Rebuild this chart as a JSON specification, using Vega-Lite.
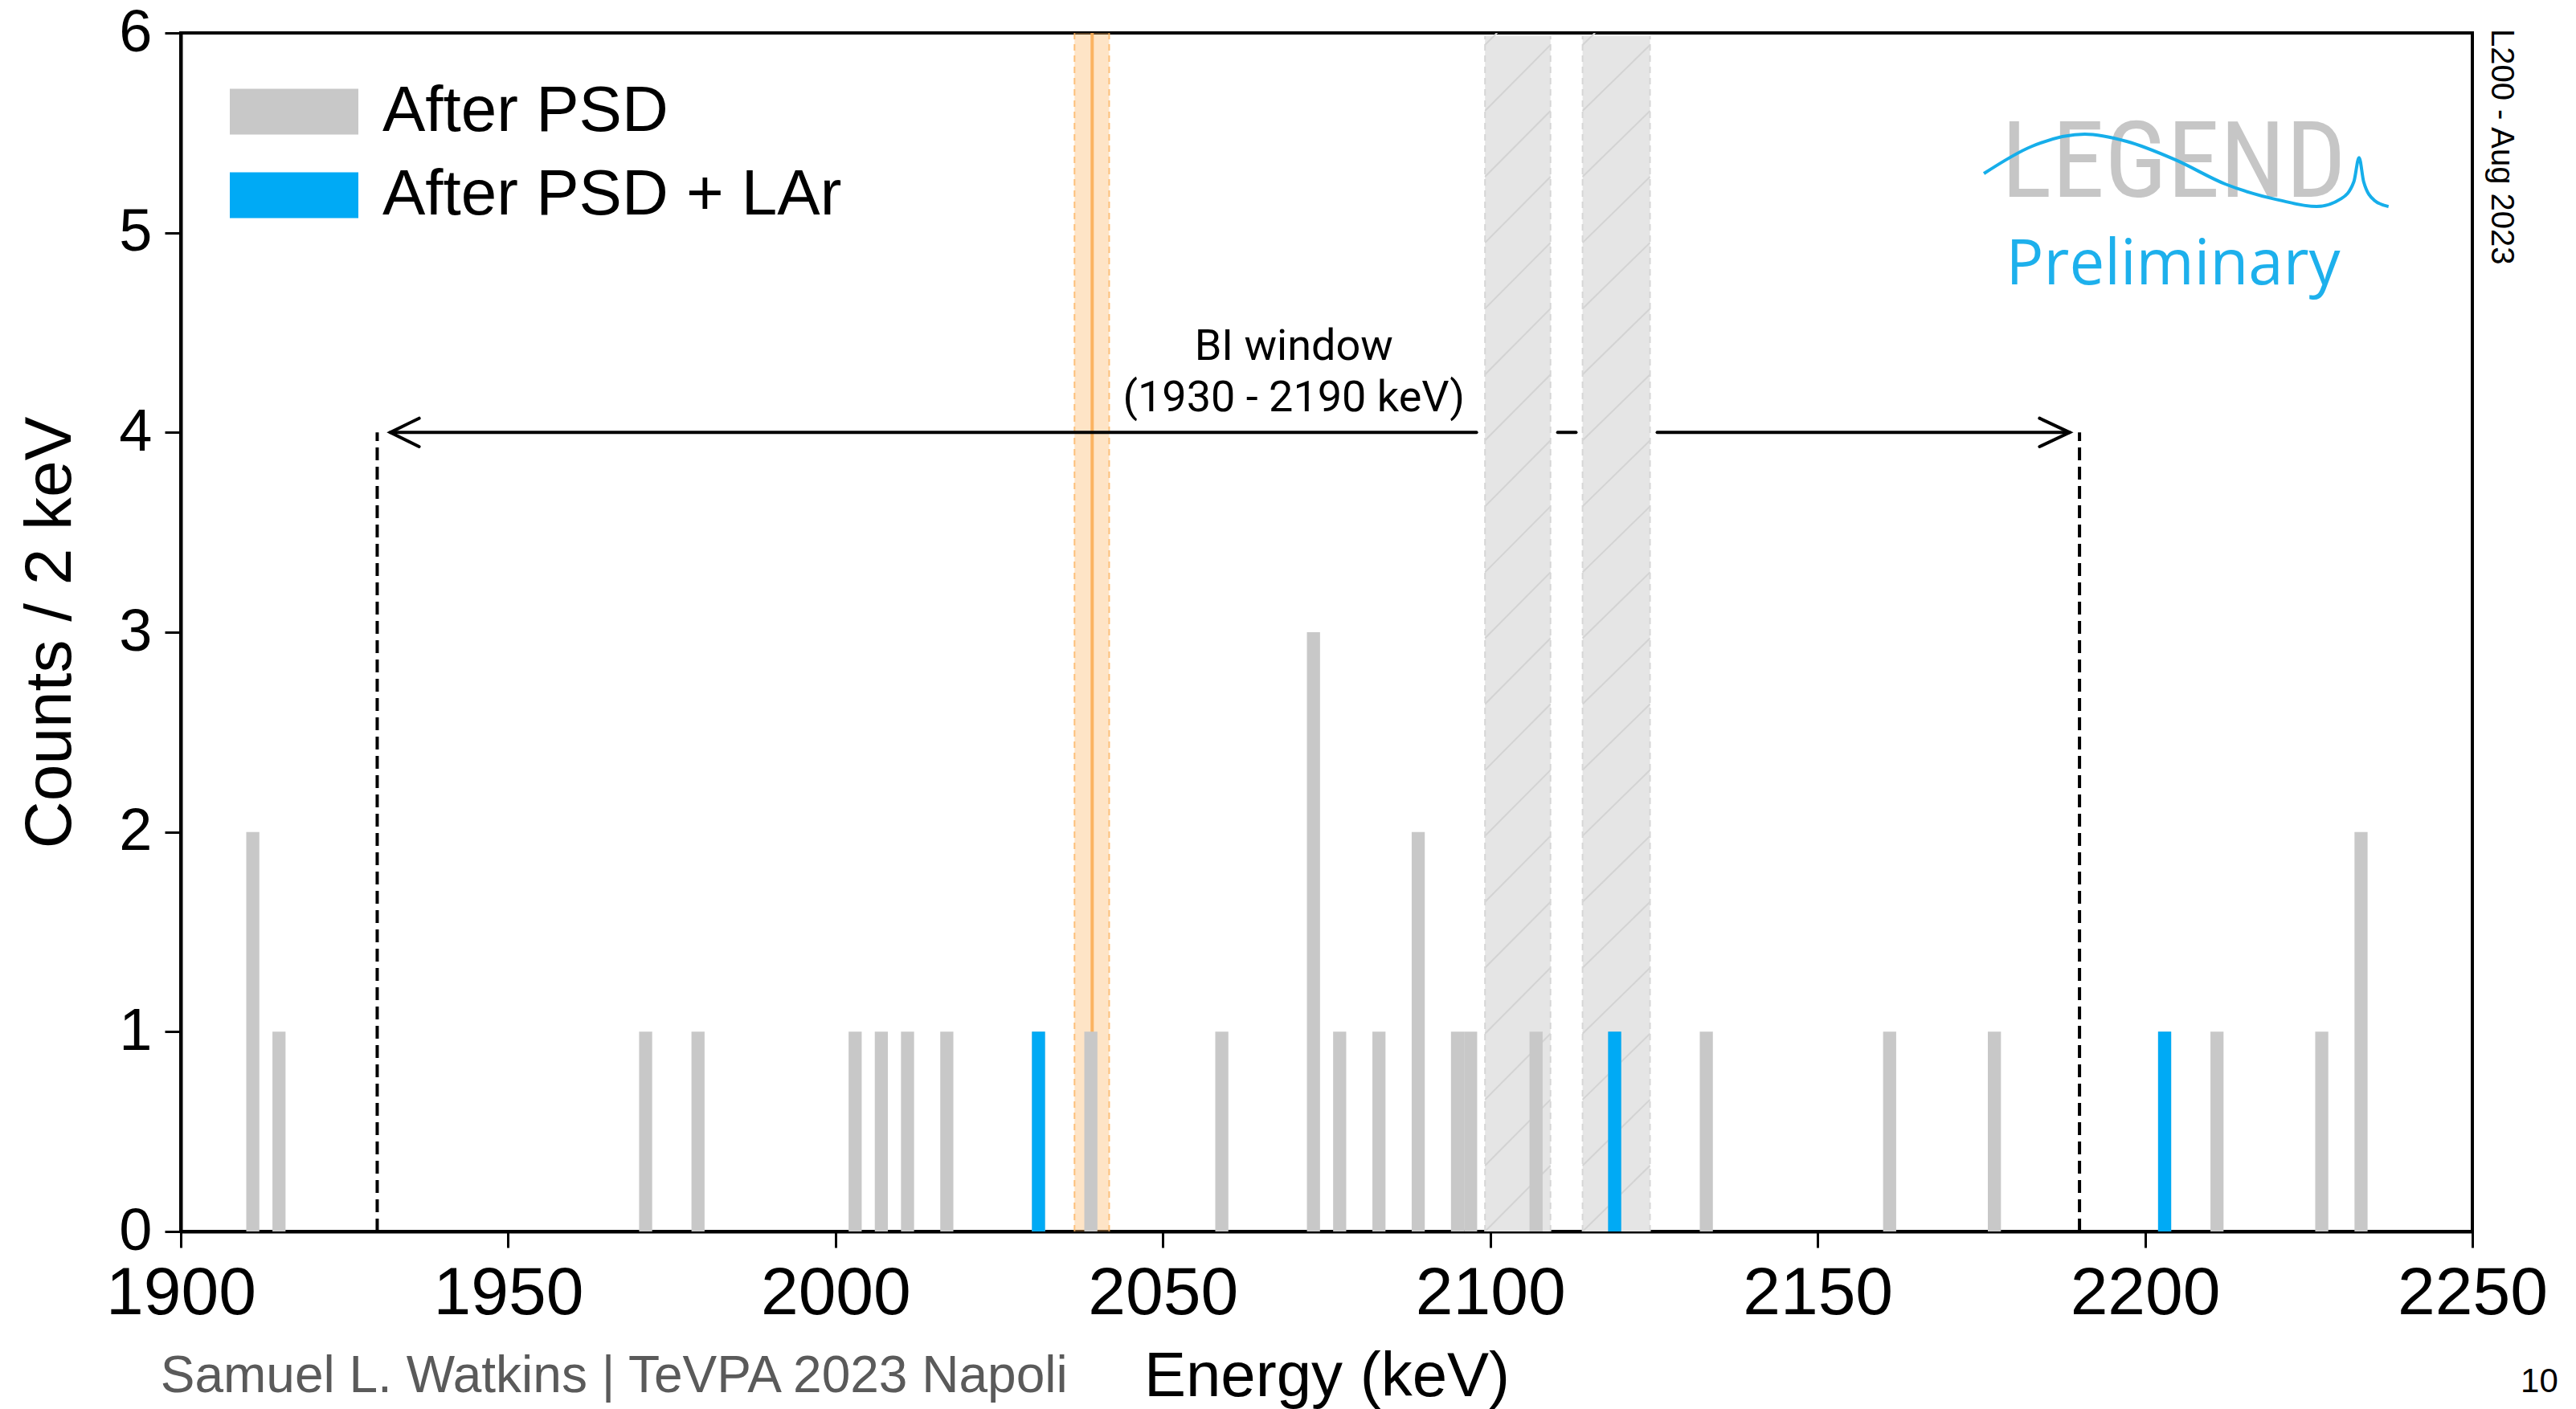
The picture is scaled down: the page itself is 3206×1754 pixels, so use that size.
{
  "$schema": "https://vega.github.io/schema/vega-lite/v6.json",
  "width": 2852,
  "height": 1492,
  "autosize": {"type": "none"},
  "padding": {"left": 225, "top": 41, "right": 129, "bottom": 221},
  "background": "white",
  "config": {
    "view": {"stroke": "black", "strokeWidth": 4},
    "font": "Liberation Sans",
    "axis": {
      "grid": false, "domainColor": "black", "domainWidth": 4, "tickColor": "black",
      "tickWidth": 3, "tickSize": 20, "labelColor": "black", "titleColor": "black",
      "titleFontWeight": "normal", "labelFont": "Liberation Sans", "titleFont": "Liberation Sans",
      "zindex": 1, "labelLimit": 0, "labelOverlap": false
    },
    "axisX": {"labelFontSize": 84, "labelPadding": 16, "titleFontSize": 78, "titlePadding": 23, "labelFlush": false},
    "axisY": {"labelFontSize": 74, "labelPadding": 16, "titleFontSize": 82, "titlePadding": 43},
    "legend": {
      "orient": "none", "legendX": 101, "legendY": 58, "padding": 0,
      "symbolType": "M-2,-0.7125L2,-0.7125L2,0.7125L-2,0.7125Z", "symbolSize": 6400,
      "symbolStrokeWidth": 0, "symbolOpacity": 1,
      "labelFontSize": 80, "labelFont": "Liberation Sans", "labelColor": "black",
      "labelOffset": 70, "labelLimit": 0, "rowPadding": 24
    }
  },
  "datasets": {
    "qbb": [{"lo": 2036.5, "hi": 2041.8, "c": 2039.2}],
    "qbbEdges": [{"e": 2036.5}, {"e": 2041.8}],
    "bands": [{"lo": 2099.2, "hi": 2109.2}, {"lo": 2114.1, "hi": 2124.4}],
    "bandEdges": [{"e": 2099.2}, {"e": 2109.2}, {"e": 2114.1}, {"e": 2124.4}],
    "hatch": [
      {"x0": 2099.2, "x1": 2109.2, "y0": -0.33, "y1": 0.0},
      {"x0": 2099.2, "x1": 2109.2, "y0": 0.0, "y1": 0.33},
      {"x0": 2099.2, "x1": 2109.2, "y0": 0.33, "y1": 0.66},
      {"x0": 2099.2, "x1": 2109.2, "y0": 0.66, "y1": 0.99},
      {"x0": 2099.2, "x1": 2109.2, "y0": 0.99, "y1": 1.32},
      {"x0": 2099.2, "x1": 2109.2, "y0": 1.32, "y1": 1.65},
      {"x0": 2099.2, "x1": 2109.2, "y0": 1.65, "y1": 1.98},
      {"x0": 2099.2, "x1": 2109.2, "y0": 1.98, "y1": 2.31},
      {"x0": 2099.2, "x1": 2109.2, "y0": 2.31, "y1": 2.64},
      {"x0": 2099.2, "x1": 2109.2, "y0": 2.64, "y1": 2.97},
      {"x0": 2099.2, "x1": 2109.2, "y0": 2.97, "y1": 3.30},
      {"x0": 2099.2, "x1": 2109.2, "y0": 3.30, "y1": 3.63},
      {"x0": 2099.2, "x1": 2109.2, "y0": 3.63, "y1": 3.96},
      {"x0": 2099.2, "x1": 2109.2, "y0": 3.96, "y1": 4.29},
      {"x0": 2099.2, "x1": 2109.2, "y0": 4.29, "y1": 4.62},
      {"x0": 2099.2, "x1": 2109.2, "y0": 4.62, "y1": 4.95},
      {"x0": 2099.2, "x1": 2109.2, "y0": 4.95, "y1": 5.28},
      {"x0": 2099.2, "x1": 2109.2, "y0": 5.28, "y1": 5.61},
      {"x0": 2099.2, "x1": 2109.2, "y0": 5.61, "y1": 5.94},
      {"x0": 2099.2, "x1": 2109.2, "y0": 5.94, "y1": 6.27},
      {"x0": 2114.1, "x1": 2124.4, "y0": -0.33, "y1": 0.0},
      {"x0": 2114.1, "x1": 2124.4, "y0": 0.0, "y1": 0.33},
      {"x0": 2114.1, "x1": 2124.4, "y0": 0.33, "y1": 0.66},
      {"x0": 2114.1, "x1": 2124.4, "y0": 0.66, "y1": 0.99},
      {"x0": 2114.1, "x1": 2124.4, "y0": 0.99, "y1": 1.32},
      {"x0": 2114.1, "x1": 2124.4, "y0": 1.32, "y1": 1.65},
      {"x0": 2114.1, "x1": 2124.4, "y0": 1.65, "y1": 1.98},
      {"x0": 2114.1, "x1": 2124.4, "y0": 1.98, "y1": 2.31},
      {"x0": 2114.1, "x1": 2124.4, "y0": 2.31, "y1": 2.64},
      {"x0": 2114.1, "x1": 2124.4, "y0": 2.64, "y1": 2.97},
      {"x0": 2114.1, "x1": 2124.4, "y0": 2.97, "y1": 3.30},
      {"x0": 2114.1, "x1": 2124.4, "y0": 3.30, "y1": 3.63},
      {"x0": 2114.1, "x1": 2124.4, "y0": 3.63, "y1": 3.96},
      {"x0": 2114.1, "x1": 2124.4, "y0": 3.96, "y1": 4.29},
      {"x0": 2114.1, "x1": 2124.4, "y0": 4.29, "y1": 4.62},
      {"x0": 2114.1, "x1": 2124.4, "y0": 4.62, "y1": 4.95},
      {"x0": 2114.1, "x1": 2124.4, "y0": 4.95, "y1": 5.28},
      {"x0": 2114.1, "x1": 2124.4, "y0": 5.28, "y1": 5.61},
      {"x0": 2114.1, "x1": 2124.4, "y0": 5.61, "y1": 5.94},
      {"x0": 2114.1, "x1": 2124.4, "y0": 5.94, "y1": 6.27}
    ],
    "bars": [
      {"lo": 1910, "hi": 1912, "counts": 2, "series": "After PSD"},
      {"lo": 1914, "hi": 1916, "counts": 1, "series": "After PSD"},
      {"lo": 1970, "hi": 1972, "counts": 1, "series": "After PSD"},
      {"lo": 1978, "hi": 1980, "counts": 1, "series": "After PSD"},
      {"lo": 2002, "hi": 2004, "counts": 1, "series": "After PSD"},
      {"lo": 2006, "hi": 2008, "counts": 1, "series": "After PSD"},
      {"lo": 2010, "hi": 2012, "counts": 1, "series": "After PSD"},
      {"lo": 2016, "hi": 2018, "counts": 1, "series": "After PSD"},
      {"lo": 2030, "hi": 2032, "counts": 1, "series": "After PSD"},
      {"lo": 2038, "hi": 2040, "counts": 1, "series": "After PSD"},
      {"lo": 2058, "hi": 2060, "counts": 1, "series": "After PSD"},
      {"lo": 2072, "hi": 2074, "counts": 3, "series": "After PSD"},
      {"lo": 2076, "hi": 2078, "counts": 1, "series": "After PSD"},
      {"lo": 2082, "hi": 2084, "counts": 1, "series": "After PSD"},
      {"lo": 2088, "hi": 2090, "counts": 2, "series": "After PSD"},
      {"lo": 2094, "hi": 2096, "counts": 1, "series": "After PSD"},
      {"lo": 2096, "hi": 2098, "counts": 1, "series": "After PSD"},
      {"lo": 2106, "hi": 2108, "counts": 1, "series": "After PSD"},
      {"lo": 2118, "hi": 2120, "counts": 1, "series": "After PSD"},
      {"lo": 2132, "hi": 2134, "counts": 1, "series": "After PSD"},
      {"lo": 2160, "hi": 2162, "counts": 1, "series": "After PSD"},
      {"lo": 2176, "hi": 2178, "counts": 1, "series": "After PSD"},
      {"lo": 2202, "hi": 2204, "counts": 1, "series": "After PSD"},
      {"lo": 2210, "hi": 2212, "counts": 1, "series": "After PSD"},
      {"lo": 2226, "hi": 2228, "counts": 1, "series": "After PSD"},
      {"lo": 2232, "hi": 2234, "counts": 2, "series": "After PSD"},
      {"lo": 2030, "hi": 2032, "counts": 1, "series": "After PSD + LAr"},
      {"lo": 2118, "hi": 2120, "counts": 1, "series": "After PSD + LAr"},
      {"lo": 2202, "hi": 2204, "counts": 1, "series": "After PSD + LAr"}
    ],
    "biEdges": [{"e": 1930}, {"e": 2190}],
    "arrow": [
      {"seg": "shaftL", "o": 0, "x": 1932.0, "y": 4},
      {"seg": "shaftL", "o": 1, "x": 2097.9, "y": 4},
      {"seg": "shaftM", "o": 0, "x": 2110.3, "y": 4},
      {"seg": "shaftM", "o": 1, "x": 2113.1, "y": 4},
      {"seg": "shaftR", "o": 0, "x": 2125.5, "y": 4},
      {"seg": "shaftR", "o": 1, "x": 2188.5, "y": 4},
      {"seg": "headL", "o": 0, "x": 1936.4, "y": 4.071},
      {"seg": "headL", "o": 1, "x": 1932.0, "y": 4},
      {"seg": "headL", "o": 2, "x": 1936.4, "y": 3.929},
      {"seg": "headR", "o": 0, "x": 2183.9, "y": 4.071},
      {"seg": "headR", "o": 1, "x": 2188.5, "y": 4},
      {"seg": "headR", "o": 2, "x": 2183.9, "y": 3.929}
    ],
    "biText": [
      {"x": 2070, "y": 4.426, "t": "BI window"},
      {"x": 2070, "y": 4.17, "t": "(1930 - 2190 keV)"}
    ],
    "wave": [
      {"o": 0, "x": 2175.4, "y": 5.296},
      {"o": 1, "x": 2182.7, "y": 5.432},
      {"o": 2, "x": 2190.8, "y": 5.493},
      {"o": 3, "x": 2197.2, "y": 5.457},
      {"o": 4, "x": 2204.7, "y": 5.364},
      {"o": 5, "x": 2212.3, "y": 5.243},
      {"o": 6, "x": 2220.5, "y": 5.163},
      {"o": 7, "x": 2226.2, "y": 5.131},
      {"o": 8, "x": 2230.0, "y": 5.171},
      {"o": 9, "x": 2231.9, "y": 5.255},
      {"o": 10, "x": 2232.7, "y": 5.376},
      {"o": 11, "x": 2233.4, "y": 5.255},
      {"o": 12, "x": 2235.0, "y": 5.163},
      {"o": 13, "x": 2237.2, "y": 5.131}
    ],
    "logo": [{"x": 2204.4, "y": 5.18, "t": "LEGEND"}],
    "prelim": [{"x": 2204.3, "y": 4.74, "t": "Preliminary"}],
    "stamp": [{"x": 2254.4, "y": 5.43, "t": "L200 - Aug 2023"}],
    "footer": [{"x": 1896.9, "y": -0.805, "t": "Samuel L. Watkins | TeVPA 2023 Napoli"}],
    "page": [{"x": 2263.1, "y": -0.805, "t": "10"}]
  },
  "layer": [
    {
      "data": {"name": "qbb"},
      "mark": {"type": "rect", "fill": "#fdb462", "fillOpacity": 0.36},
      "encoding": {
        "x": {"field": "lo", "type": "quantitative", "title": "Energy (keV)",
              "scale": {"domain": [1900, 2250], "nice": false, "zero": false},
              "axis": {"values": [1900, 1950, 2000, 2050, 2100, 2150, 2200, 2250], "format": "d"}},
        "x2": {"field": "hi"},
        "y": {"datum": 0, "type": "quantitative", "title": "Counts / 2 keV",
              "scale": {"domain": [0, 6], "nice": false},
              "axis": {"values": [0, 1, 2, 3, 4, 5, 6], "format": "d"}},
        "y2": {"datum": 6}
      }
    },
    {
      "data": {"name": "qbbEdges"},
      "mark": {"type": "rule", "stroke": "#fdb462", "strokeWidth": 2, "strokeDash": [8, 6], "opacity": 0.8},
      "encoding": {
        "x": {"field": "e", "type": "quantitative", "title": "Energy (keV)"},
        "y": {"datum": 0, "type": "quantitative"},
        "y2": {"datum": 6}
      }
    },
    {
      "data": {"name": "qbb"},
      "mark": {"type": "rule", "stroke": "#fbad55", "strokeWidth": 4, "opacity": 0.9},
      "encoding": {
        "x": {"field": "c", "type": "quantitative", "title": "Energy (keV)"},
        "y": {"datum": 0, "type": "quantitative"},
        "y2": {"datum": 6}
      }
    },
    {
      "data": {"name": "bands"},
      "mark": {"type": "rect", "fill": "#e5e5e5"},
      "encoding": {
        "x": {"field": "lo", "type": "quantitative", "title": "Energy (keV)"},
        "x2": {"field": "hi"},
        "y": {"datum": 0, "type": "quantitative"},
        "y2": {"datum": 5.985}
      }
    },
    {
      "data": {"name": "hatch"},
      "mark": {"type": "rule", "stroke": "#d3d3d3", "strokeWidth": 2, "clip": true},
      "encoding": {
        "x": {"field": "x0", "type": "quantitative", "title": "Energy (keV)"},
        "x2": {"field": "x1"},
        "y": {"field": "y0", "type": "quantitative", "title": "Counts / 2 keV"},
        "y2": {"field": "y1"}
      }
    },
    {
      "data": {"name": "bandEdges"},
      "mark": {"type": "rule", "stroke": "#d6d6d6", "strokeWidth": 2, "strokeDash": [8, 6]},
      "encoding": {
        "x": {"field": "e", "type": "quantitative", "title": "Energy (keV)"},
        "y": {"datum": 0, "type": "quantitative"},
        "y2": {"datum": 5.985}
      }
    },
    {
      "data": {"name": "bars"},
      "mark": {"type": "rect"},
      "encoding": {
        "x": {"field": "lo", "type": "quantitative", "title": "Energy (keV)"},
        "x2": {"field": "hi"},
        "y": {"field": "counts", "type": "quantitative", "title": "Counts / 2 keV"},
        "y2": {"datum": 0},
        "color": {"field": "series", "type": "nominal",
                  "scale": {"domain": ["After PSD", "After PSD + LAr"], "range": ["#c8c8c8", "#00aaf5"]},
                  "legend": {"title": null}}
      }
    },
    {
      "data": {"name": "biEdges"},
      "mark": {"type": "rule", "stroke": "black", "strokeWidth": 4, "strokeDash": [16, 8]},
      "encoding": {
        "x": {"field": "e", "type": "quantitative", "title": "Energy (keV)"},
        "y": {"datum": 0, "type": "quantitative"},
        "y2": {"datum": 4}
      }
    },
    {
      "data": {"name": "arrow"},
      "mark": {"type": "line", "stroke": "black", "strokeWidth": 4, "strokeCap": "round", "strokeJoin": "miter"},
      "encoding": {
        "x": {"field": "x", "type": "quantitative", "title": "Energy (keV)"},
        "y": {"field": "y", "type": "quantitative", "title": "Counts / 2 keV"},
        "detail": {"field": "seg", "type": "nominal"},
        "order": {"field": "o", "type": "quantitative"}
      }
    },
    {
      "data": {"name": "biText"},
      "mark": {"type": "text", "font": "Roboto", "fontSize": 54, "color": "black", "align": "center", "baseline": "middle"},
      "encoding": {
        "x": {"field": "x", "type": "quantitative", "title": "Energy (keV)"},
        "y": {"field": "y", "type": "quantitative", "title": "Counts / 2 keV"},
        "text": {"field": "t"}
      }
    },
    {
      "data": {"name": "logo"},
      "mark": {"type": "text", "font": "Liberation Sans Narrow, Roboto Condensed, Roboto", "fontSize": 132, "color": "#c6c6c6", "align": "center", "baseline": "alphabetic"},
      "encoding": {
        "x": {"field": "x", "type": "quantitative", "title": "Energy (keV)"},
        "y": {"field": "y", "type": "quantitative", "title": "Counts / 2 keV"},
        "text": {"field": "t"}
      }
    },
    {
      "data": {"name": "wave"},
      "mark": {"type": "line", "stroke": "#16aeea", "strokeWidth": 4, "interpolate": "monotone"},
      "encoding": {
        "x": {"field": "x", "type": "quantitative", "title": "Energy (keV)"},
        "y": {"field": "y", "type": "quantitative", "title": "Counts / 2 keV"},
        "order": {"field": "o", "type": "quantitative"}
      }
    },
    {
      "data": {"name": "prelim"},
      "mark": {"type": "text", "font": "Open Sans", "fontSize": 78, "color": "#1db0ec", "align": "center", "baseline": "alphabetic"},
      "encoding": {
        "x": {"field": "x", "type": "quantitative", "title": "Energy (keV)"},
        "y": {"field": "y", "type": "quantitative", "title": "Counts / 2 keV"},
        "text": {"field": "t"}
      }
    },
    {
      "data": {"name": "stamp"},
      "mark": {"type": "text", "font": "Liberation Sans", "fontSize": 40, "color": "black", "align": "center", "baseline": "middle", "angle": 90},
      "encoding": {
        "x": {"field": "x", "type": "quantitative", "title": "Energy (keV)"},
        "y": {"field": "y", "type": "quantitative", "title": "Counts / 2 keV"},
        "text": {"field": "t"}
      }
    },
    {
      "data": {"name": "footer"},
      "mark": {"type": "text", "font": "Liberation Sans", "fontSize": 64, "color": "#5a5a5a", "align": "left", "baseline": "alphabetic"},
      "encoding": {
        "x": {"field": "x", "type": "quantitative", "title": "Energy (keV)"},
        "y": {"field": "y", "type": "quantitative", "title": "Counts / 2 keV"},
        "text": {"field": "t"}
      }
    },
    {
      "data": {"name": "page"},
      "mark": {"type": "text", "font": "Liberation Sans", "fontSize": 42, "color": "black", "align": "right", "baseline": "alphabetic"},
      "encoding": {
        "x": {"field": "x", "type": "quantitative", "title": "Energy (keV)"},
        "y": {"field": "y", "type": "quantitative", "title": "Counts / 2 keV"},
        "text": {"field": "t"}
      }
    }
  ]
}
